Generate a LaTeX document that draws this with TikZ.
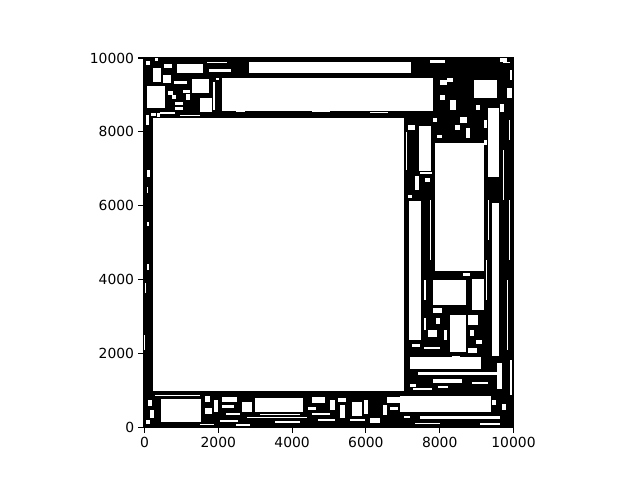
\documentclass[tikz,border=0pt]{standalone}
\usepackage{fontspec}
\setmainfont{DejaVu Sans}
\begin{document}
\begin{tikzpicture}[x=1pt,y=-1pt,shift={(0pt,480pt)},
  hole/.style={fill=white},
  tick/.style={line width=1.1pt},
  ticklabel/.style={inner sep=0pt,font=\fontsize{13.9}{16}\selectfont}]
\useasboundingbox (0,0) rectangle (640,480);
% dense packing area
\fill[black] (143,57.5) rectangle (514,428);
% large holes
\foreach \a/\b/\c/\d in {
 153/118/404/391, 222/78/433/111, 249/62/411/73, 435/143/484/271,
 433/280/466/305, 472/279/484/310, 409/201/421/340, 419/126/431/171,
 488/108/499/177, 492/203/499/356, 450/315/466/352, 410/357/481/369,
 497/363/502/389, 400/396/491/412, 161/399/201/422, 255/398/303/412,
 474/80/497/98, 147/86/165/108, 177/64/203/73, 192/79/209/93,
 200/98/212/112, 153/68/161/82, 163/75/171/83}
 \fill[hole] (\a,\b) rectangle (\c,\d);
% small holes and slivers
\foreach \a/\b/\c/\d in {
 164/64/172/68, 174/81/187/84, 175/102/183/105, 175/107/183/110,
 207/62/227/63.3, 209/69/231/72, 242/402/252/412, 222/397/237/402,
 312/397/325/403, 352/402/362/416, 387/397/405/403, 370/418/380/423,
 247/416.5/307/418, 460/117/467/123, 447/78/453/82, 507/88/512/98,
 430/60/445/63, 433/379/462/383, 418/372/497/375, 420/416/500/419,
 428/330/437/337, 468/315/478/325, 468/348/477/353, 413/388/432/390,
 472/382/488/384, 433/308/442/313, 463/273/470/276, 408/195/412/198,
 440/80/447/85, 500/58.5/507/62, 408/125/415/130, 420/172/432/174,
 437/135/442/138, 146/61/150/65, 147/170/150/177, 146.7/187/148/193,
 147/222/149/226, 147/264/149/270, 144.7/283/146/293, 144/335/145.3/350,
 146/115/149/125, 155/57.9/158/61, 168/91/173/95, 183/90/190/93,
 160/112/175/114, 157/113/160/117, 213/82/215/110, 216/78/219/80,
 186/94/190/100, 172/95/176/99, 180/115/200/116.5, 151/113/156/116,
 236/111.5/245/112.5, 312/111.5/330/112.5, 370/112/388/113,
 405.5/132/407/170, 425/178/430/182, 415/176/419/190, 433/118/437/122,
 440/95/445/100, 450/100/456/110, 455/125/460/130, 466/128/470/138,
 476/105/480/110, 484/140/487/145, 484/120/487/128, 503/62/510/63.5,
 510/70/512/80, 500/104/504/112, 508.5/120/510/140, 503/150/504.2/200,
 508.5/200/510/260, 507/280/508.2/350, 510/360/511.5/395, 487.5/200/488.7/240,
 429.5/200/430.7/260, 486/260/487.2/300, 424/280/425.5/300, 424/318/425.5/330,
 436/318/440/324, 444/330/447/340, 470/330/474/336, 476/340/482/344,
 412/344/420/347, 424/347/440/349, 452/356/460/356.6, 410/384/416/387,
 438/386/448/388, 404/406/407/410, 492/400/496/405, 502/404/506/410,
 404/416/410/418, 480/423/500/424.5, 415/423/440/424,
 148/400/152/406, 150/410/154/418, 146/420/150/424, 155/395/200/396,
 205/396/210/402, 205/408/212/414, 214/400/218/412, 222/405/234/408,
 226/413/240/415, 220/420/238/421.5, 260/414/300/415, 308/407/316/410,
 312/413/330/415, 330/400/335/410, 338/398/346/402, 340/405/345/418,
 350/419/365/421, 364/400/368/414, 383/405/387/415, 390/407/398/410,
 318/419/335/421, 275/421/300/422.5, 200/424/214/425, 236/424/250/425.5}
 \fill[hole] (\a,\b) rectangle (\c,\d);
% ticks
\foreach \px/\lab in {144.5/0, 218.3/2000, 292.1/4000, 365.9/6000, 439.7/8000, 513.5/10000} {
  \draw[tick] (\px,428) -- (\px,432.9);
  \node[ticklabel,anchor=north] at (\px,437) {\lab};
}
\foreach \py/\lab in {427.5/0, 353.6/2000, 279.7/4000, 205.8/6000, 131.9/8000, 58/10000} {
  \draw[tick] (143,\py) -- (138.1,\py);
  \node[ticklabel,anchor=east] at (134.3,\py) {\lab};
}
\end{tikzpicture}
\end{document}
